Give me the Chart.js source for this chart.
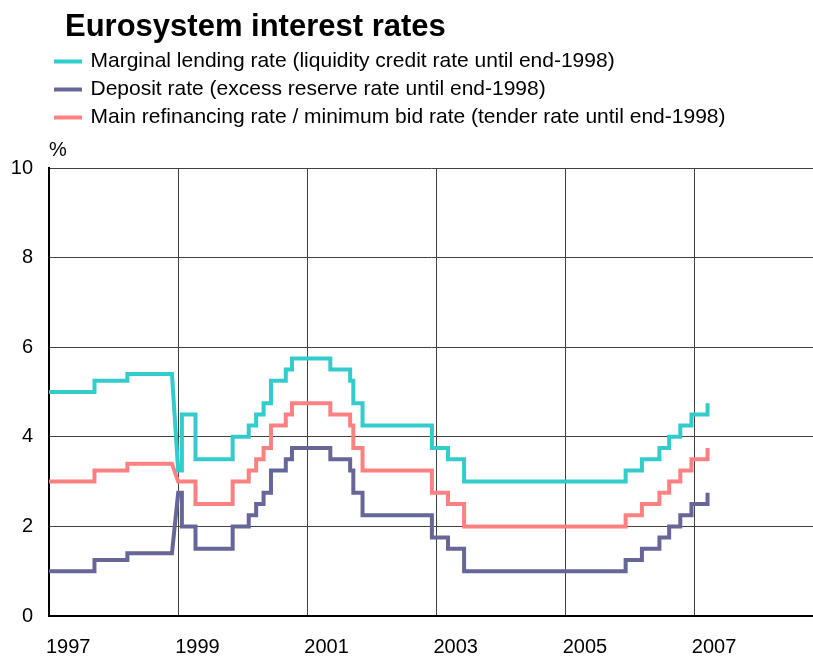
<!DOCTYPE html>
<html>
<head>
<meta charset="utf-8">
<title>Eurosystem interest rates</title>
<script src="https://cdn.jsdelivr.net/npm/chart.js@4"></script>
<style>
  html, body { margin: 0; padding: 0; background: #fff; }
</style>
</head>
<body>
<canvas id="ratesChart" width="813" height="657"></canvas>
<script>
const chartTitle = 'Eurosystem interest rates';

// dates at which the rates changed (pre-1999: national averages)
const changeDates = ['1997-01-01', '1997-09-15', '1998-03-20', '1998-11-27', '1999-01-01', '1999-01-22',
  '1999-04-09', '1999-11-05', '2000-02-04', '2000-03-17', '2000-04-28', '2000-06-09', '2000-09-01',
  '2000-10-06', '2001-05-11', '2001-08-31', '2001-09-18', '2001-11-09', '2002-12-06', '2003-03-07',
  '2003-06-06', '2005-12-06', '2006-03-08', '2006-06-15', '2006-08-09', '2006-10-11', '2006-12-13',
  '2007-03-14'];

const marginalRate = [5.0, 5.25, 5.4, 5.4, 3.25, 4.5, 3.5, 4.0, 4.25, 4.5, 4.75, 5.25, 5.5, 5.75,
  5.5, 5.25, 4.75, 4.25, 3.75, 3.5, 3.0, 3.25, 3.5, 3.75, 4.0, 4.25, 4.5, 4.75];
const depositRate = [1.0, 1.25, 1.4, 1.4, 2.75, 2.0, 1.5, 2.0, 2.25, 2.5, 2.75, 3.25, 3.5, 3.75,
  3.5, 3.25, 2.75, 2.25, 1.75, 1.5, 1.0, 1.25, 1.5, 1.75, 2.0, 2.25, 2.5, 2.75];
const mainRate = [3.0, 3.25, 3.4, 3.4, 3.0, 3.0, 2.5, 3.0, 3.25, 3.5, 3.75, 4.25, 4.5, 4.75,
  4.5, 4.25, 3.75, 3.25, 2.75, 2.5, 2.0, 2.25, 2.5, 2.75, 3.0, 3.25, 3.5, 3.75];

const seriesLabels = [
  'Marginal lending rate (liquidity credit rate until end-1998)',
  'Deposit rate (excess reserve rate until end-1998)',
  'Main refinancing rate / minimum bid rate (tender rate until end-1998)'
];
const seriesColors = ['#33CCCC', '#666699', '#FF8080'];
const yearTicks = [1997, 1999, 2001, 2003, 2005, 2007];
const slopeIndex = 4; // changeover to the euro drawn as a slope, not a step

const FONT = 'Arial, "Liberation Sans", sans-serif';
Chart.defaults.font.family = FONT;
Chart.defaults.color = '#000';

function toYear(d) {
  const [y, m, day] = d.split('-').map(Number);
  const start = Date.UTC(y, 0, 1);
  const end = Date.UTC(y + 1, 0, 1);
  return y + (Date.UTC(y, m - 1, day) - start) / (end - start);
}

// rate holds until the next change date, then jumps
function stepPoints(values) {
  const pts = [];
  values.forEach((v, i) => {
    const x = toYear(changeDates[i]);
    if (i > 0 && i !== slopeIndex) pts.push({ x: x, y: values[i - 1] });
    pts.push({ x: x, y: v });
  });
  return pts;
}

const titlePlugin = {
  id: 'leftTitle',
  afterDraw(chart) {
    const c = chart.ctx;
    c.save();
    c.font = 'bold 31px ' + FONT;
    c.fillStyle = '#000';
    c.textBaseline = 'alphabetic';
    c.textAlign = 'left';
    c.fillText(chartTitle, 65, 36);
    c.restore();
  }
};

const ctx = document.getElementById('ratesChart').getContext('2d');

const ratesChart = new Chart(ctx, {
  type: 'line',
  data: {
    datasets: [
      { label: seriesLabels[0], data: stepPoints(marginalRate), borderColor: seriesColors[0], backgroundColor: seriesColors[0] },
      { label: seriesLabels[1], data: stepPoints(depositRate), borderColor: seriesColors[1], backgroundColor: seriesColors[1] },
      { label: seriesLabels[2], data: stepPoints(mainRate), borderColor: seriesColors[2], backgroundColor: seriesColors[2] }
    ]
  },
  options: {
    responsive: false,
    animation: false,
    devicePixelRatio: 1,
    layout: { padding: { top: 44, left: 0, right: 0, bottom: 0 } },
    elements: {
      line: { borderWidth: 4, tension: 0, borderCapStyle: 'butt', borderJoinStyle: 'miter' },
      point: { radius: 0, hoverRadius: 0 }
    },
    plugins: {
      tooltip: { enabled: false },
      title: { display: false },
      legend: {
        position: 'top',
        align: 'start',
        fullSize: false,
        labels: {
          usePointStyle: true,
          pointStyle: 'line',
          pointStyleWidth: 24,
          padding: 7,
          color: '#000',
          font: { size: 21 },
          generateLabels: chart => Chart.defaults.plugins.legend.labels.generateLabels(chart)
            .map((item, i) => Object.assign(item, {
              lineCap: 'square',
              pointStyle: 'line',
              lineWidth: 4,
              strokeStyle: seriesColors[i],
              fillStyle: seriesColors[i]
            }))
        }
      }
    },
    scales: {
      x: {
        type: 'linear',
        min: 1997,
        max: 2008.83,
        afterBuildTicks: scale => { scale.ticks = yearTicks.map(v => ({ value: v })); },
        afterFit: scale => { scale.height = 41; },
        ticks: {
          align: 'start',
          labelOffset: -3,
          padding: 19,
          autoSkip: false,
          maxRotation: 0,
          font: { size: 20 },
          color: '#000',
          callback: v => String(v)
        },
        grid: { color: '#404040', lineWidth: 1, drawTicks: false },
        border: { color: '#000', width: 2 }
      },
      y: {
        min: 0,
        max: 10,
        afterFit: scale => { scale.width = 49; },
        ticks: { stepSize: 2, padding: 16, font: { size: 20 }, color: '#000' },
        grid: { color: '#404040', lineWidth: 1, drawTicks: false },
        border: { color: '#000', width: 2 }
      },
      unit: {
        type: 'linear',
        position: 'top',
        display: true,
        min: 0,
        max: 1,
        grid: { display: false, drawTicks: false },
        border: { display: false },
        ticks: { display: false },
        title: { display: true, text: '%', align: 'start', color: '#000', font: { size: 20, lineHeight: 1 }, padding: { top: 2, bottom: 8 } }
      }
    }
  },
  plugins: [titlePlugin]
});
</script>
</body>
</html>
